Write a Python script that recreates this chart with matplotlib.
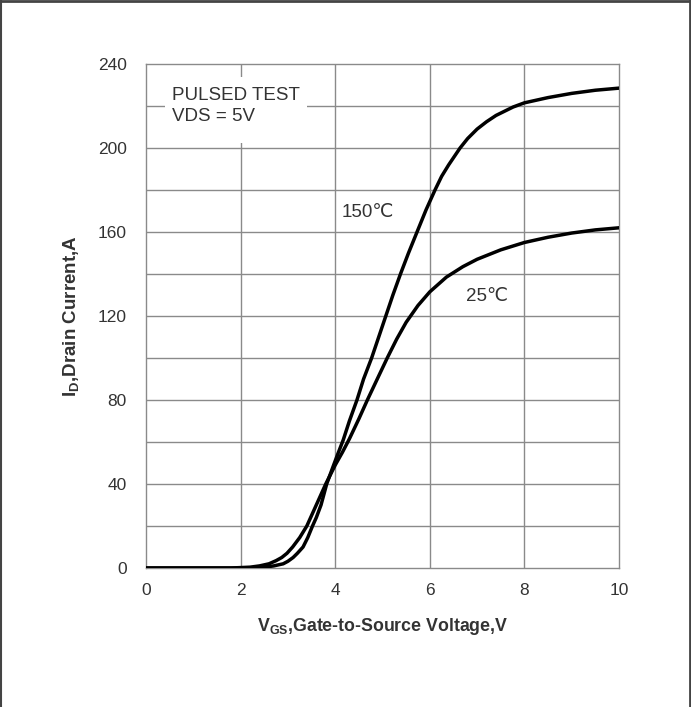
import matplotlib
matplotlib.use("Agg")
import matplotlib.pyplot as plt
from matplotlib.lines import Line2D
from matplotlib.patches import Rectangle
import numpy as np

plt.rcParams["font.family"] = ["Liberation Sans", "DejaVu Sans"]

# Transfer characteristics
vgs_25 = [0, 1.8, 2.2, 2.4, 2.6, 2.75, 2.87, 2.98, 3.1, 3.25, 3.4, 3.5, 3.6,
          3.7, 3.8, 3.9, 4.0, 4.15, 4.3, 4.5, 4.68, 4.9, 5.1, 5.3, 5.5,
          5.75, 6.0, 6.35, 6.7, 7.0, 7.5, 8.0, 8.5, 9.0, 9.5, 10.0]
id_25 = [0, 0, 0.4, 1, 2, 3.5, 5, 7, 10, 14.5, 20, 25, 30,
         35, 40, 44.5, 49, 55, 61.5, 71, 80, 90.5, 100, 109, 117,
         125, 131.5, 138.5, 143.5, 147, 151.5, 155, 157.5, 159.5, 161, 162]

vgs_150 = [0, 2.3, 2.5, 2.7, 2.9, 3.0, 3.11, 3.2, 3.32, 3.42, 3.52, 3.6,
           3.7, 3.82, 3.95, 4.05, 4.17, 4.3, 4.46, 4.6, 4.77, 4.92, 5.07,
           5.22, 5.38, 5.55, 5.73, 5.92, 6.11, 6.25, 6.4, 6.64, 6.8, 7.0,
           7.2, 7.4, 7.76, 8.0, 8.5, 9.0, 9.5, 10.0]
id_150 = [0, 0, 0.4, 1, 2, 3.2, 5, 7, 10, 14.5, 20, 24,
          30, 40, 48, 54, 61, 70, 80, 90, 100, 110, 120,
          130, 140, 150, 160, 170.5, 180, 186.5, 192, 200, 204.5, 209,
          212.5, 215.5, 219.5, 221.5, 224, 226, 227.5, 228.5]

x_ticks = [0, 2, 4, 6, 8, 10]
y_ticks = [0, 40, 80, 120, 160, 200, 240]

grid_col = "#8a8a8a"
text_col = "#333333"

fig = plt.figure(figsize=(6.91, 7.07), dpi=100)
ax = fig.add_axes([0.2113, 0.1966, 0.6845, 0.7129])

# grid every 2 V and every 20 A
for gx in np.arange(2, 10, 2):
    ax.axvline(gx, color=grid_col, lw=1.0, zorder=1)
for gy in np.arange(20, 240, 20):
    ax.axhline(gy, color=grid_col, lw=1.0, zorder=1)

# white box behind the test condition note
ax.add_patch(Rectangle((0.4, 202.5), 3.0, 31.5, facecolor="white",
                       edgecolor="none", zorder=2))
ax.text(0.55, 225, "PULSED TEST", fontsize=13.5, color=text_col,
        va="center", ha="left", zorder=3)
ax.text(0.55, 215, "VDS = 5V", fontsize=13.5, color=text_col,
        va="center", ha="left", zorder=3)

ax.plot(vgs_25, id_25, color="black", lw=2.5, zorder=4,
        solid_capstyle="round", solid_joinstyle="round")
ax.plot(vgs_150, id_150, color="black", lw=2.5, zorder=4,
        solid_capstyle="round", solid_joinstyle="round")

ax.text(4.69, 169.5, "150℃", fontsize=13.5, color=text_col,
        ha="center", va="center", zorder=3)
ax.text(7.2, 129.5, "25℃", fontsize=13.5, color=text_col,
        ha="center", va="center", zorder=3)

ax.set_xlim(0, 10)
ax.set_ylim(0, 240)
ax.set_xticks(x_ticks)
ax.set_yticks(y_ticks)
ax.tick_params(length=0, labelsize=12.5, labelcolor=text_col)
ax.tick_params(axis="x", pad=11)
ax.tick_params(axis="y", pad=14)
for sp in ax.spines.values():
    sp.set_color(grid_col)
    sp.set_linewidth(1.0)

ax.set_xlabel(r"V$_{\mathregular{GS}}$,Gate-to-Source Voltage,V",
              fontsize=12.8, fontweight="bold", color=text_col, labelpad=13)
ax.set_ylabel(r"I$_{\mathregular{D}}$,Drain Current,A",
              fontsize=13.5, fontweight="bold", color=text_col, labelpad=11)

# outer frame (top, left and right edges)
frame_col = "#444444"
fig.add_artist(Line2D([0, 1], [0.998, 0.998], transform=fig.transFigure,
                      color=frame_col, lw=2))
fig.add_artist(Line2D([0.001, 0.001], [0, 1], transform=fig.transFigure,
                      color=frame_col, lw=1.5))
fig.add_artist(Line2D([0.9985, 0.9985], [0, 1], transform=fig.transFigure,
                      color=frame_col, lw=2))

fig.savefig("out.png", dpi=100)
